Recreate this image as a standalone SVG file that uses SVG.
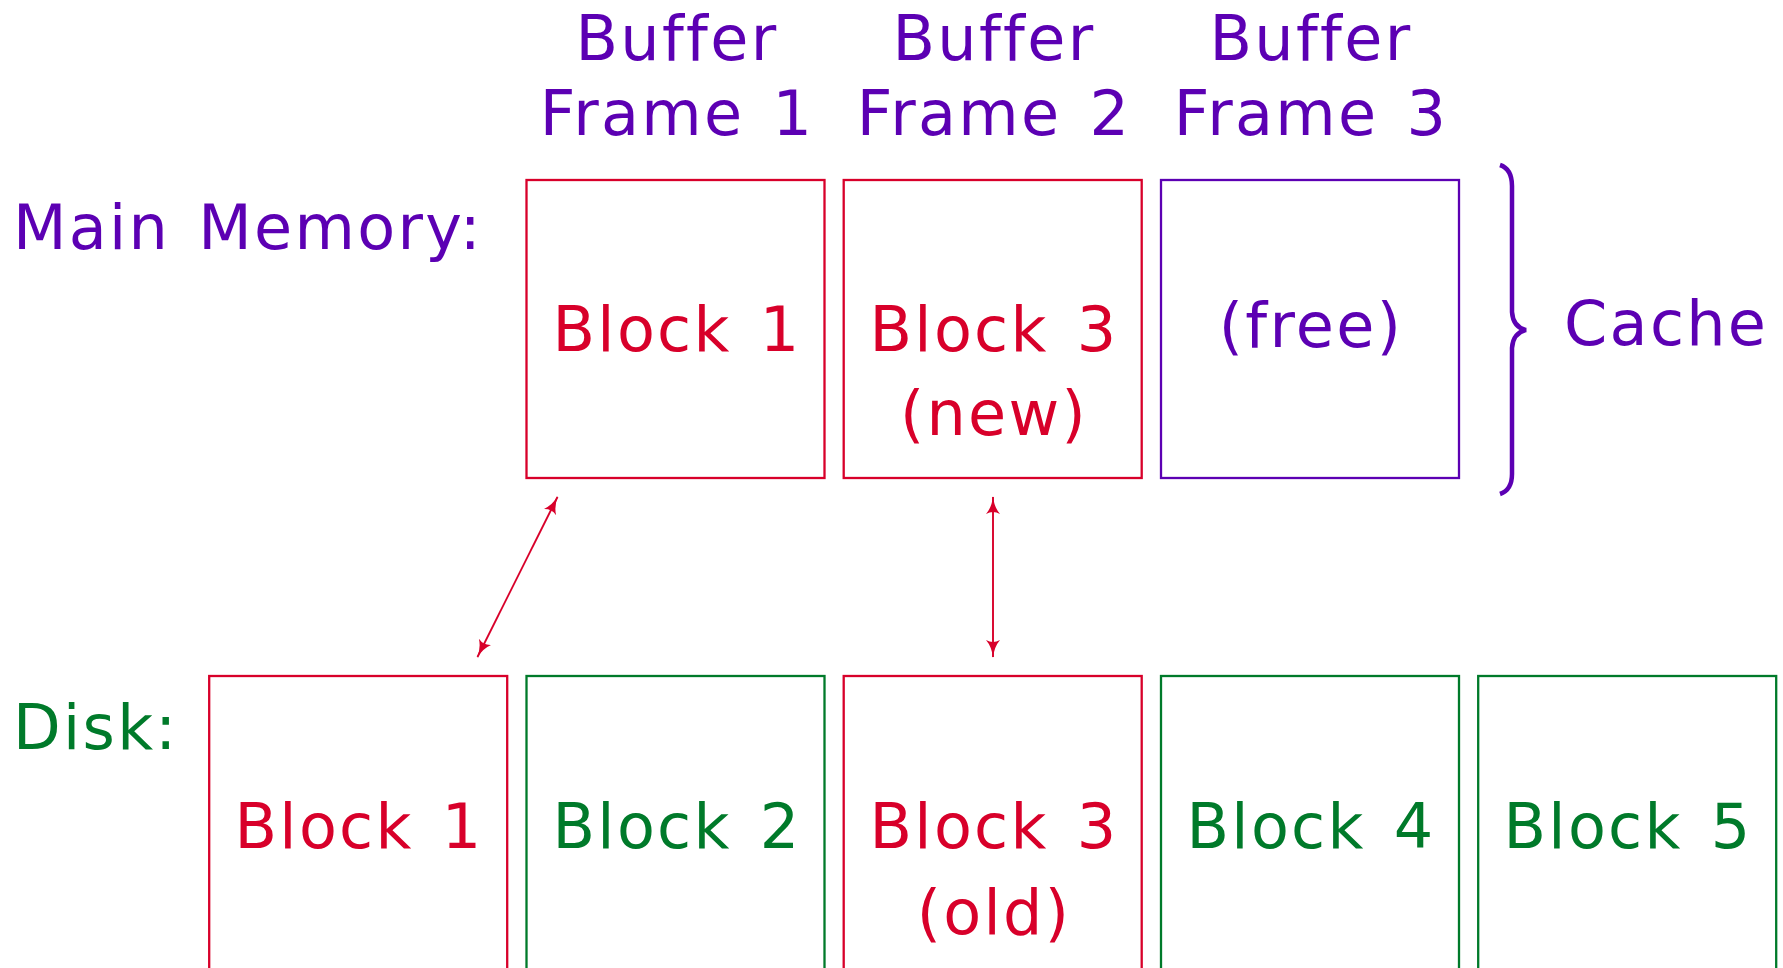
<svg xmlns="http://www.w3.org/2000/svg" width="1783" height="968" viewBox="0 0 1783 968">
<style>
text{font-family:"DejaVu Sans","Liberation Sans",sans-serif;font-size:62px;letter-spacing:2.3px;word-spacing:6px}
.p{fill:#5c00b3}.r{fill:#d8002a}.g{fill:#007a2a}
.m{text-anchor:middle}
rect{fill:none;stroke-width:2.3}
.rs{stroke:#d8002a}.ps{stroke:#5c00b3}.gs{stroke:#007a2a}
.conn{stroke:#d8002a;stroke-width:1.9;fill:none;marker-start:url(#ah);marker-end:url(#ah)}
</style>
<defs>
<marker id="ah" viewBox="0 0 18 14" refX="17" refY="7" markerWidth="18" markerHeight="14" markerUnits="userSpaceOnUse" orient="auto-start-reverse">
<path d="M0,0 Q7,6 18,7 Q7,8 0,14 Q4,7 0,0Z" fill="#d8002a"/>
</marker>
</defs>
<rect width="1783" height="968" fill="#fff" stroke="none"/>
<g id="labels">
<text class="p m" x="677" y="60">Buffer</text>
<text class="p m" x="677" y="135">Frame 1</text>
<text class="p m" x="994" y="60">Buffer</text>
<text class="p m" x="994" y="135">Frame 2</text>
<text class="p m" x="1311" y="60">Buffer</text>
<text class="p m" x="1311" y="135">Frame 3</text>
<text class="p" x="13" y="249">Main Memory:</text>
<text class="g" x="13" y="749">Disk:</text>
</g>
<g id="mem1"><rect class="rs" x="526.5" y="180" width="298" height="298"/><text class="r m" x="677" y="351">Block 1</text></g>
<g id="mem2"><rect class="rs" x="843.7" y="180" width="298" height="298"/><text class="r m" x="994" y="351">Block 3</text><text class="r m" x="994" y="435">(new)</text></g>
<g id="mem3"><rect class="ps" x="1161" y="180" width="298" height="298"/><text class="p m" x="1311" y="347">(free)</text></g>
<g id="cache">
<path d="M1500,165 Q1512,169 1512,186 L1512,312 Q1513,327 1526,330 Q1513,333 1512,348 L1512,474 Q1512,490 1500,494" fill="none" stroke="#5c00b3" stroke-width="4.5"/>
<text class="p" x="1564" y="345">Cache</text>
</g>
<g id="disk1"><rect class="rs" x="209.2" y="676" width="298" height="320"/><text class="r m" x="359" y="848">Block 1</text></g>
<g id="disk2"><rect class="gs" x="526.5" y="676" width="298" height="320"/><text class="g m" x="677" y="848">Block 2</text></g>
<g id="disk3"><rect class="rs" x="843.7" y="676" width="298" height="320"/><text class="r m" x="994" y="848">Block 3</text><text class="r m" x="994" y="934">(old)</text></g>
<g id="disk4"><rect class="gs" x="1161" y="676" width="298" height="320"/><text class="g m" x="1311" y="848">Block 4</text></g>
<g id="disk5"><rect class="gs" x="1478.2" y="676" width="298" height="320"/><text class="g m" x="1628" y="848">Block 5</text></g>
<g id="connectors">
<line class="conn" x1="557.5" y1="497" x2="477.5" y2="657"/>
<line class="conn" x1="993" y1="497" x2="993" y2="657"/>
</g>
</svg>
